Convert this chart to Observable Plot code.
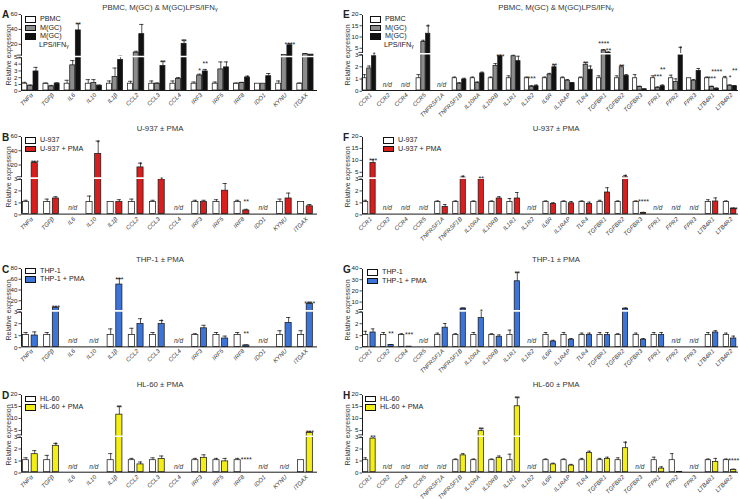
<!DOCTYPE html>
<html><head><meta charset="utf-8">
<script src="https://cdn.jsdelivr.net/npm/d3@7"></script>
<script src="https://cdn.jsdelivr.net/npm/@observablehq/plot@0.6"></script>
<style>
body{margin:0;background:#fff;font-family:"Liberation Sans",Arial,sans-serif;color:#222;}
#fig{position:relative;width:740px;height:499px;overflow:hidden;background:#fff;}
.abs{position:absolute;}
.title{font-size:7.8px;font-weight:normal;color:#333;transform:translate(-50%,-50%);white-space:nowrap;}
.title sub{font-size:5.5px;vertical-align:-1px;}
.letter{font-size:10px;font-weight:bold;transform:translateY(-50%);}
.ylab{font-size:7px;color:#333;white-space:nowrap;transform:translate(-50%,-50%) rotate(-90deg);}
.leg{font-size:7.2px;line-height:8.6px;color:#222;}
.leg .row{display:flex;align-items:center;height:8.6px;}
.leg .row2{padding-left:14px;height:8.6px;}
.leg sub{font-size:5px;vertical-align:-1px;}
.sw{width:9px;height:4.5px;border:1px solid #111;margin-right:4px;}
</style></head>
<body><div id="fig"></div>
<script>
// ---------- categories ----------
const genesL = ["TNFα","TGFβ","IL6","IL10","IL1β","CCL2","CCL3","CCL4","IRF3","IRF5","IRF8","IDO1","KYNU","ITGAX"];
const genesR = ["CCR1","CCR2","CCR4","CCR5","TNFRSF1A","TNFRSF1B","IL10RA","IL10RB","IL1R1","IL1R2","IL6R","IL1RAP","TLR4","TGFBR1","TGFBR2","TGFBR3","FPR1","FPR2","FPR3","LTB4R1","LTB4R2"];

// ---------- Panel A ----------
const A_pbmc     = [1,1,1,1,1,1,1,1,1,1,1,1,1,1];
const A_pbmc_err = [0.2,0.1,0.5,0.6,0.4,0.35,0.4,0.4,0.25,0.25,0.1,0,0.4,0.1];
const A_mgc      = [0.7,0.6,3.7,1.1,2.0,10,1.0,1.7,2.2,3.1,1.1,1.0,7,8];
const A_mgc_err  = [0.1,0.15,0.7,0.5,1.3,2,0.1,0.2,0.2,1.1,0.1,0,0,1];
const A_mgc_sig  = ["","","","","","","","","*","","","","",""];
const A_lps      = [2.8,1.0,40,0.7,4.5,35,3.6,22,2.8,3.4,1.9,2.1,20,7.5];
const A_lps_err  = [0.6,0.15,9,0.1,1,13,0.7,5,0.3,0.8,0.2,0.4,2,0];
const A_lps_sig  = ["","","**","","","","**","**","**","","*","","****",""];
const A_ticks    = [0,1,2,3,4,5,20,40,60];

// ---------- Panel B ----------
const B_u      = [1,1,null,1,1,1,1,null,1,1,1,null,1,1];
const B_u_err  = [0.15,0.25,0,0.5,0,0.25,0.15,0,0.15,0.2,0.15,0,0.25,0];
const B_p      = [24,1.3,null,37,1.0,18,2.9,null,1.0,1.95,0.3,null,1.3,0.65];
const B_p_err  = [2,0.15,0,18,0.2,6,0.1,0,0.15,0.6,0.1,0,0.45,0.15];
const B_p_sig  = ["***","","","*","","*","*","","","","**","","",""];
const B_ticks  = [0,1,2,3,20,40,60];

// ---------- Panel C ----------
const C_t      = [1,1,null,null,1,1,1,null,1,1,1,null,1,1];
const C_t_err  = [0.2,0.2,0,0,0.5,0.55,0.2,0,0.1,0.2,0.2,0,0.35,0.35];
const C_p      = [0.95,9,null,null,52,1.9,1.9,null,1.55,0.7,0.12,null,2.0,16];
const C_p_err  = [0.3,1.5,0,0,11,0.45,0.3,0,0.25,0.2,0.05,0,0.45,3];
const C_p_sig  = ["","***","","","***","","*","","","","**","","","****"];
const C_ticks  = [0,1,2,3,20,40,60,80];

// ---------- Panel D ----------
const D_h      = [1,1,null,null,1,1,1,null,1,1,1,null,null,1];
const D_h_err  = [0.2,0.4,0,0,0.55,0.15,0.2,0,0.15,0.15,0.15,0,0,0];
const D_p      = [1.5,2.2,null,null,12,0.65,1.1,null,1.2,0.9,0,null,null,4.4];
const D_p_err  = [0.3,0.2,0,0,3.5,0.2,0.25,0,0.25,0.25,0,0,0,0.5];
const D_p_sig  = ["","*","","","**","","","","","","****","","","***"];
const D_ticks  = [0,1,2,3,5,10,15,20];

// ---------- Panel E ----------
const E_pbmc     = [1,null,null,1,null,1,1,1,1,1,1,1,1,1,1,1,1,1,1,1,1];
const E_pbmc_err = [0.3,0,0,0.3,0,0.1,0.1,0.1,0.2,0.1,0.1,0.1,0.1,0.2,0.2,0.3,0.2,0.25,0,0.1,0.15];
const E_mgc      = [1.8,null,null,8.2,null,0.55,0.6,2.0,2.8,0.3,1.3,0.8,2.1,4.5,1.9,0.3,0.2,0.7,0.8,0.3,0.4];
const E_mgc_err  = [0.2,0,0,0.8,0,0.1,0.1,0.2,0.1,0.1,0.1,0.1,0.2,0.3,0.15,0.05,0.1,0.25,0.1,0.05,0.05];
const E_mgc_sig  = ["","","","","","","","","","***","","","**","****","**","","***","","","***","*"];
const E_lps      = [2.8,null,null,11.9,null,0.9,1.4,2.8,2.4,0.35,1.9,0.6,1.7,3.5,1.2,0.1,0.35,2.9,1.6,0.15,0.35];
const E_lps_err  = [0.3,0,0,3.5,0,0.1,0.1,0.1,0.4,0.1,0.2,0.05,0.3,0.3,0.1,0.02,0.1,3.0,0.2,0.05,0.05];
const E_lps_sig  = ["*","","","*","","","","***","","","**","","","**","","","**","*","","****","**"];
const E_ticks    = [0,1,2,3,5,10,15,20];

// ---------- Panel F ----------
const F_u      = [1,null,null,null,1,1,1,1,1,null,1,1,1,1,1,1,null,null,null,1,1];
const F_u_err  = [0.15,0,0,0,0.1,0.1,0.1,0.1,0.3,0,0.1,0.1,0.1,0.15,0.1,0.1,0,0,0,0.2,0.1];
const F_p      = [9.3,null,null,null,0.6,3.2,2.9,1.3,1.3,null,0.85,0.9,0.85,1.8,3.3,0.1,null,null,null,1.05,0.45];
const F_p_err  = [1.4,0,0,0,0.2,0.6,0.3,0.15,0.5,0,0.1,0.15,0.15,0.4,0.8,0.05,0,0,0,0.3,0.05];
const F_p_sig  = ["***","","","","","*","**","","","","","","","","*","****","","","","","***"];
const F_ticks  = [0,1,2,3,5,10,15,20];

// ---------- Panel G ----------
const G_t      = [1,1,1,null,1,1,1,1,1,null,1,1,1,1,1,1,1,null,null,1,1];
const G_t_err  = [0.3,0.2,0.1,0,0.15,0.1,0.2,0.1,0.4,0,0.2,0.2,0.15,0.2,0.1,0.15,0.2,0,0,0.2,0.15];
const G_p      = [1.2,0.15,0.02,null,1.6,5,2.4,0.85,29.5,null,0.45,0.6,1.0,1.0,5,0.6,1.0,null,null,1.2,0.7];
const G_p_err  = [0.3,0.05,0,0,0.35,0.5,0.6,0.15,8,0,0.1,0.1,0.15,0.2,0.5,0.1,0.2,0,0,0.15,0.2];
const G_p_sig  = ["","**","***","","","**","*","","**","","","","","","*","","","","","",""];
const G_ticks  = [0,1,2,3,10,20,30,40];

// ---------- Panel H ----------
const H_h      = [1,null,null,null,null,1,1,1,1,null,1,1,1,1,1,null,1,1,null,1,1];
const H_h_err  = [0.2,0,0,0,0,0.1,0.1,0.1,0.5,0,0.1,0.1,0.15,0.15,0.2,0,0.25,0.55,0,0.1,0.1];
const H_p      = [2.8,null,null,null,null,1.4,5.1,1.2,15.5,null,0.65,0.55,1.6,1.1,2.0,null,0.3,0.03,null,0.85,0.2];
const H_p_err  = [0.2,0,0,0,0,0.15,1.2,0.15,3.8,0,0.1,0.1,0.15,0.15,0.5,0,0.15,0,0,0.3,0.05];
const H_p_sig  = ["**","","","","","","**","","**","","","","","","*","","","","","","****"];
const H_ticks  = [0,1,2,3,5,10,15,20];

// ---------- layout / style ----------
const WHITE = "#ffffff", GRAY = "#8c8c8c", BLACK = "#111111", RED = "#d91e1e", BLUE = "#3d74d8", YELLOW = "#f3ef14";
const ROW1 = {top: 15, brk: 56, base: 90}, ROW1R = {top: 15, brk: 53.3, base: 90};
const ROW2 = {top: 136.7, brk: 177.3, base: 213.3};
const ROW3 = {top: 269.3, brk: 310.7, base: 346.7};
const ROW4 = {top: 395, brk: 435.7, base: 471.7};

const panels = [
  {id:"A", side:"L", genes:genesL, ...ROW1, lmax:5, umax:60, ticks:A_ticks, letterY:14,
   title:'PBMC, M(GC) &amp; M(GC)LPS/IFN<sub>γ</sub>', titleY:7, legX:25, legY:15,
   series:[{name:"PBMC", fill:WHITE, v:A_pbmc, e:A_pbmc_err},
           {name:"M(GC)", fill:GRAY, v:A_mgc, e:A_mgc_err, sig:A_mgc_sig},
           {name:"M(GC)|LPS/IFN<sub>γ</sub>", fill:BLACK, v:A_lps, e:A_lps_err, sig:A_lps_sig}]},
  {id:"B", side:"L", genes:genesL, ...ROW2, lmax:3, umax:60, ticks:B_ticks, letterY:137,
   title:'U-937 ± PMA', titleY:127.5, legX:25, legY:136,
   series:[{name:"U-937", fill:WHITE, v:B_u, e:B_u_err},
           {name:"U-937 + PMA", fill:RED, v:B_p, e:B_p_err, sig:B_p_sig}]},
  {id:"C", side:"L", genes:genesL, ...ROW3, lmax:3, umax:80, ticks:C_ticks, letterY:269,
   title:'THP-1 ± PMA', titleY:258.5, legX:25, legY:266.5,
   series:[{name:"THP-1", fill:WHITE, v:C_t, e:C_t_err},
           {name:"THP-1 + PMA", fill:BLUE, v:C_p, e:C_p_err, sig:C_p_sig}]},
  {id:"D", side:"L", genes:genesL, ...ROW4, lmax:3, umax:20, ticks:D_ticks, letterY:395,
   title:'HL-60 ± PMA', titleY:383.5, legX:25, legY:394.5,
   series:[{name:"HL-60", fill:WHITE, v:D_h, e:D_h_err},
           {name:"HL-60 + PMA", fill:YELLOW, v:D_p, e:D_p_err, sig:D_p_sig}]},
  {id:"E", side:"R", genes:genesR, ...ROW1R, lmax:3, umax:20, ticks:E_ticks, letterY:14,
   title:'PBMC, M(GC) &amp; M(GC)LPS/IFN<sub>γ</sub>', titleY:7, legX:370, legY:15,
   series:[{name:"PBMC", fill:WHITE, v:E_pbmc, e:E_pbmc_err},
           {name:"M(GC)", fill:GRAY, v:E_mgc, e:E_mgc_err, sig:E_mgc_sig},
           {name:"M(GC)|LPS/IFN<sub>γ</sub>", fill:BLACK, v:E_lps, e:E_lps_err, sig:E_lps_sig}]},
  {id:"F", side:"R", genes:genesR, ...ROW2, lmax:3, umax:20, ticks:F_ticks, letterY:137,
   title:'U-937 ± PMA', titleY:127.5, legX:383, legY:136,
   series:[{name:"U-937", fill:WHITE, v:F_u, e:F_u_err},
           {name:"U-937 + PMA", fill:RED, v:F_p, e:F_p_err, sig:F_p_sig}]},
  {id:"G", side:"R", genes:genesR, ...ROW3, lmax:3, umax:40, ticks:G_ticks, letterY:269,
   title:'THP-1 ± PMA', titleY:258.5, legX:367, legY:268,
   series:[{name:"THP-1", fill:WHITE, v:G_t, e:G_t_err},
           {name:"THP-1 + PMA", fill:BLUE, v:G_p, e:G_p_err, sig:G_p_sig}]},
  {id:"H", side:"R", genes:genesR, ...ROW4, lmax:3, umax:20, ticks:H_ticks, letterY:395,
   title:'HL-60 ± PMA', titleY:383.5, legX:365, legY:394.5,
   series:[{name:"HL-60", fill:WHITE, v:H_h, e:H_h_err},
           {name:"HL-60 + PMA", fill:YELLOW, v:H_p, e:H_p_err, sig:H_p_sig}]}
];

const fig = document.getElementById("fig");
const INK = "#1a1a1a";

function addDiv(cls, left, top, html) {
  const d = document.createElement("div");
  d.className = "abs " + cls;
  d.style.left = left + "px";
  d.style.top = top + "px";
  d.innerHTML = html;
  fig.appendChild(d);
  return d;
}

function makePanel(cfg) {
  const L = cfg.side === "L";
  const genes = cfg.genes, n = genes.length, k = cfg.series.length;
  const w = k === 3 ? 0.235 : 0.29, gap = k === 3 ? 0.03 : 0.12;
  const x0 = L ? -0.42 : -0.38, xEnd = L ? n - 0.43 : n - 0.53;
  const rows = [];
  genes.forEach((gene, i) => {
    const tops = cfg.series.map(s => s.v[i] == null ? 0 : s.v[i] + (s.e[i] || 0));
    const gmax = Math.max(...tops);
    const group = [];
    cfg.series.forEach((s, j) => {
      const v = s.v[i];
      if (v == null) return;
      const err = s.e[i] || 0;
      const c = i + (j - (k - 1) / 2) * (w + gap);
      const top = v + err;
      const r = {gene, i, j, v, err, top, c, xa: c - w / 2, xb: c + w / 2,
                 sig: s.sig ? s.sig[i] : "", sigY: top >= 0.5 ? top : gmax, level: 0};
      rows.push(r); group.push(r);
    });
    const starred = group.filter(r => r.sig);
    if (starred.length > 1) {
      starred.sort((a, b) => a.sigY - b.sigY || a.j - b.j);
      const yMax = starred[starred.length - 1].sigY;
      starred.forEach((r, lvl) => { r.sigY = yMax; r.level = lvl; });
    }
  });
  const nd = genes.map((g, i) => ({g, i})).filter(d => cfg.series.every(s => s.v[d.i] == null));
  const marginTop = 4, marginBottom = 26;
  const plotH = cfg.base - cfg.top;
  const height = Math.round(marginTop + plotH + marginBottom);
  const baseY = marginTop + plotH, brkY = marginTop + (cfg.brk - cfg.top);
  const capW = 0.1;
  const errRows = rows.filter(d => d.err > 0);
  const lowTicks = cfg.ticks.filter(t => t <= cfg.lmax);
  const highTicks = cfg.ticks.filter(t => t > cfg.lmax);

  const marks = [];
  cfg.series.forEach((s, j) => {
    marks.push(Plot.rectY(rows.filter(d => d.j === j), {x1: "xa", x2: "xb", y1: 0, y2: "v",
      fill: s.fill, stroke: INK, strokeWidth: 0.75}));
  });
  marks.push(
    Plot.ruleX(errRows, {x: "c", y1: "v", y2: "top", stroke: INK, strokeWidth: 0.75}),
    Plot.ruleY(errRows, {y: "top", x1: d => d.c - capW, x2: d => d.c + capW, stroke: INK, strokeWidth: 0.75}),
    Plot.ruleY([0], {stroke: INK, strokeWidth: 1}),
    Plot.ruleX([x0], {y1: 0, y2: cfg.umax, stroke: INK, strokeWidth: 1}),
    Plot.ruleY([cfg.lmax], {stroke: "white", strokeWidth: 1.6}),
    Plot.ruleY([cfg.lmax], {x1: x0 - 0.2, x2: x0 + 0.02, dy: -1.4, stroke: INK, strokeWidth: 0.8}),
    Plot.ruleY([cfg.lmax], {x1: x0 - 0.2, x2: x0 + 0.02, dy: 1.4, stroke: INK, strokeWidth: 0.8}),
    Plot.axisY(lowTicks, {tickSize: 2.5, tickPadding: 1.5, fontSize: 6.2, label: null, strokeWidth: 0.8, dy: 0.8}),
    Plot.axisY(highTicks, {tickSize: 2.5, tickPadding: 1.5, fontSize: 6.2, label: null, strokeWidth: 0.8, dy: -1}),
    Plot.text(genes, {x: (d, i) => i, frameAnchor: "bottom", text: d => d, rotate: -45,
      textAnchor: "end", dx: 3, dy: 5, fontSize: 6, fontStyle: "italic", fill: "#333"}),
    Plot.text(nd, {x: "i", y: cfg.lmax * 0.16, text: () => "n/d", fontSize: 6.5, fontStyle: "italic", fill: "#333"}),
    Plot.text(rows.filter(d => d.sig && d.level === 0), {x: "c", y: "sigY", text: "sig", lineAnchor: "bottom", dy: 3.5, fontSize: 7}),
    Plot.text(rows.filter(d => d.sig && d.level === 1), {x: "c", y: "sigY", text: "sig", lineAnchor: "bottom", dy: -3.5, fontSize: 7})
  );

  const svg = Plot.plot({
    width: L ? 320 : 400, height,
    marginLeft: L ? 21 : 22, marginRight: L ? 3 : 2, marginTop, marginBottom,
    x: {type: "linear", domain: [x0, xEnd], axis: null},
    y: {type: "linear", domain: [0, cfg.lmax, cfg.umax], range: [baseY, brkY, marginTop]},
    style: {fontFamily: '"Liberation Sans", Arial, sans-serif', color: "#222", background: "transparent", overflow: "visible"},
    marks
  });
  const holder = addDiv("", L ? 0 : 340, cfg.top - marginTop, "");
  holder.appendChild(svg);

  addDiv("title", L ? 160 : 556, cfg.titleY, cfg.title);
  addDiv("letter", L ? 2 : 343, cfg.letterY, cfg.id);
  addDiv("ylab", L ? 8 : 347, (cfg.top + cfg.base) / 2 + 2, "Relative expression");

  const lg = addDiv("leg", cfg.legX, cfg.legY, "");
  cfg.series.forEach(s => {
    const parts = s.name.split("|");
    const row = document.createElement("div");
    row.className = "row";
    row.innerHTML = `<div class="sw" style="background:${s.fill}"></div><span>${parts[0]}</span>`;
    lg.appendChild(row);
    if (parts[1]) {
      const r2 = document.createElement("div");
      r2.className = "row2";
      r2.innerHTML = parts[1];
      lg.appendChild(r2);
    }
  });
}

panels.forEach(makePanel);
</script>
</body></html>
